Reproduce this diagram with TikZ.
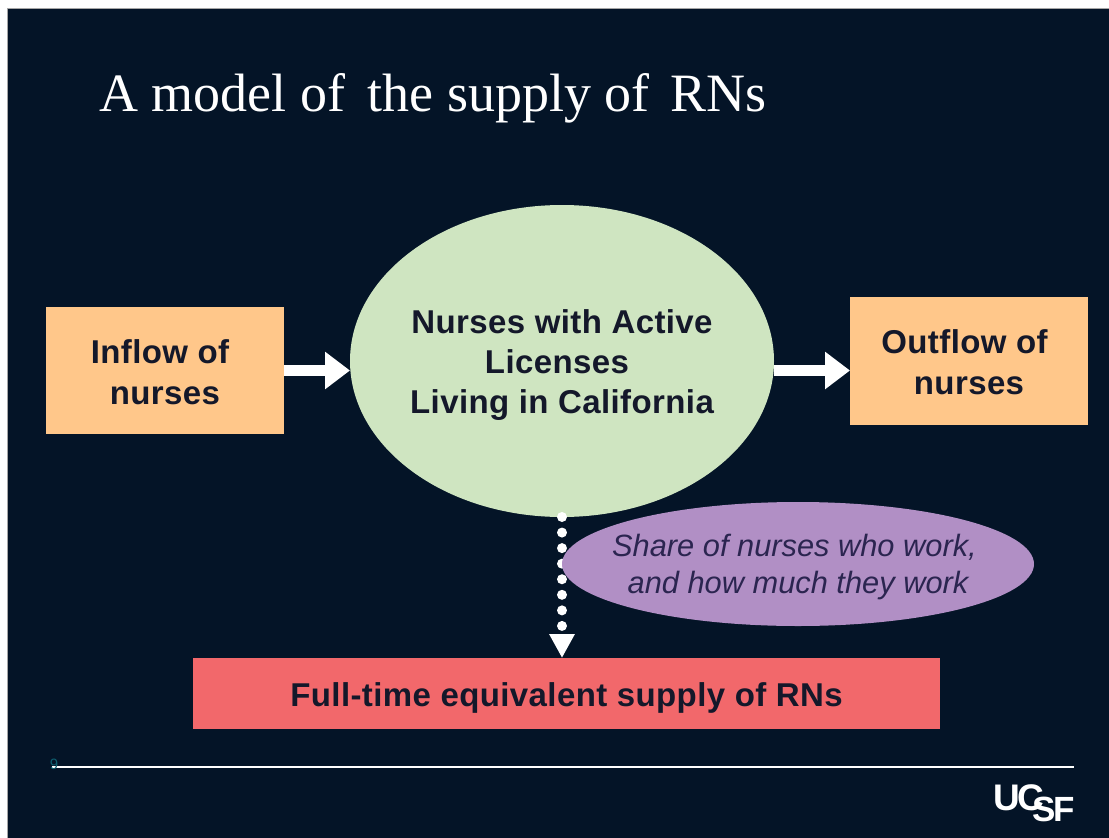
\documentclass[tikz,border=0pt]{standalone}
\usepackage{fontspec}
\setmainfont{Liberation Serif}
\setsansfont{Liberation Sans}
\newfontfamily\spacedsans[LetterSpace=1.2]{Liberation Sans}
\usetikzlibrary{arrows.meta,shapes.geometric}
\definecolor{bgpanel}{HTML}{041427}
\definecolor{boxorange}{HTML}{FFC78A}
\definecolor{boxgreen}{HTML}{CFE5C1}
\definecolor{boxpurple}{HTML}{B18FC5}
\definecolor{boxred}{HTML}{F2686B}
\definecolor{inkdark}{HTML}{14182A}
\definecolor{inkpurple}{HTML}{2B2550}
\definecolor{teal9}{HTML}{0E5F70}
\tikzset{
  x=1pt,y=-1pt,
  boxbase/.style={inner sep=0pt,outer sep=0pt,align=center,text=inkdark,font=\spacedsans\bfseries\fontsize{33}{40}\selectfont},
  rectbox/.style={boxbase,rectangle,minimum width=#1},
  bigarrow/.style={draw=white,line width=11pt,-{Triangle[length=25pt,width=36pt]}},
  dotarrow/.style={draw=white,line width=10pt,line cap=round,dash pattern=on 0.01pt off 15.55pt,-{Triangle[length=24pt,width=24pt]}}
}
\begin{document}
\begin{tikzpicture}
\useasboundingbox (0,0) rectangle (1109,838);
\fill[white] (0,0) rectangle (1109,838);
\fill[bgpanel,draw=gray!70,line width=1pt] (7,8) rectangle (1110,839);
\node[anchor=base west,inner sep=0pt,text=white,font=\rmfamily\fontsize{54}{60}\selectfont] (title) at (99,111) {A model of\hspace{9pt} the supply of\hspace{7pt} RNs};
\node[rectbox=238pt,fill=boxorange,minimum height=127pt] (inflow) at (165,370.5) {\rule{0pt}{27pt}Inflow of\mbox{\kern 10pt}\\[1pt]nurses};
\node[rectbox=238pt,fill=boxorange,minimum height=128pt] (outflow) at (969,361) {\rule{0pt}{27pt}Outflow of\mbox{\kern 9pt}\\[1pt]nurses};
\node[ellipse,fill=boxgreen,inner sep=0pt,outer sep=0pt,minimum width=424pt,minimum height=312pt] (core) at (562,361) {};
\node[boxbase] (corelabel) at (562,365) {Nurses with Active\\Licenses\mbox{\kern 10pt}\\Living in California};
\node[rectbox=747pt,fill=boxred,minimum height=71pt] (fte) at (566.5,693.5) {\rule{0pt}{32pt}Full-time equivalent supply of RNs};
\draw[bigarrow] (inflow.east) -- (inflow.east -| core.west);
\draw[bigarrow] (core.east |- inflow.east) -- (outflow.west |- inflow.east);
\draw[dotarrow] (core.south) -- (core.south |- fte.north);
\node[ellipse,fill=boxpurple,inner sep=0pt,outer sep=0pt,minimum width=472pt,minimum height=124pt] (share) at (798,564) {};
\node[inner sep=0pt,align=center,text=inkpurple,font=\sffamily\itshape\fontsize{30.8}{36.5}\selectfont] (sharelabel) at (798,567) {Share of nurses who work,\mbox{\kern 7pt}\\and how much they work};
\draw[white,line width=1.6pt] (52,767) coordinate (rulea) -- (1074,767) coordinate (ruleb);
\node[inner sep=0pt,text=teal9,font=\sffamily\fontsize{15}{15}\selectfont] (pagenum) at (54,764) {9};
\node[anchor=base west,inner sep=0pt,text=white,font=\sffamily\bfseries\fontsize{37}{37}\selectfont] (logo) at (993,810) {U\kern-2pt C\kern-12pt\raisebox{-11pt}{\fontsize{35}{35}\selectfont S\kern-3pt F}};
\end{tikzpicture}
\end{document}
